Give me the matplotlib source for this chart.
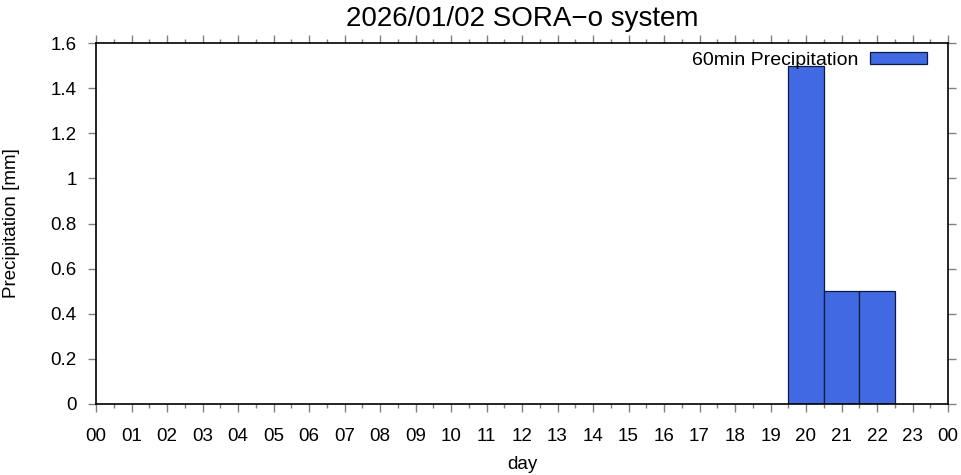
import matplotlib
matplotlib.use("Agg")
import matplotlib.pyplot as plt
import numpy as np

plt.rcParams['font.family'] = ['Liberation Sans', 'DejaVu Sans']

# hourly precipitation, hour 0..23
hours = list(range(24))
precip = [0, 0, 0, 0, 0, 0, 0, 0, 0, 0, 0, 0,
          0, 0, 0, 0, 0, 0, 0, 0, 1.5, 0.5, 0.5, 0]
xlabels = ['%02d' % h for h in range(24)] + ['00']
yticks = [0, 0.2, 0.4, 0.6, 0.8, 1, 1.2, 1.4, 1.6]
ylabels = ['0', '0.2', '0.4', '0.6', '0.8', '1', '1.2', '1.4', '1.6']

fig = plt.figure(figsize=(9.61, 4.75), dpi=100)
ax = fig.add_axes([96 / 961, 1 - 404 / 475, (948 - 96) / 961, (404 - 43) / 475])

h = np.array(hours)
p = np.array(precip)
mask = p > 0
ax.bar(h[mask], p[mask], width=1.0, color='#4169e1', edgecolor='#0a1a40',
       linewidth=0.9, label='60min Precipitation')

ax.set_xlim(0, 24)
ax.set_ylim(0, 1.6)
ax.set_xticks(range(25))
ax.set_xticklabels(xlabels, fontsize=13.5)
ax.set_xticks(np.arange(0.5, 24, 1), minor=True)
ax.set_yticks(yticks)
ax.set_yticklabels(ylabels, fontsize=13.5)

ax.tick_params(axis='both', which='major', direction='out', length=6, width=1,
               color='#808080', top=True, right=True)
ax.tick_params(axis='x', which='major', pad=11)
ax.tick_params(axis='y', which='major', pad=8)
ax.tick_params(axis='x', which='minor', direction='out', length=3, width=1,
               color='#808080', top=True)
for s in ax.spines.values():
    s.set_linewidth(1.2)
    s.set_color('black')

ax.set_xlabel('day', fontsize=13.5, labelpad=8)
ax.set_ylabel('Precipitation [mm]', fontsize=13.5, labelpad=22)
ax.set_title('2026/01/02 SORA\u2212o system', fontsize=20, pad=12)

ax.legend(loc='upper right', frameon=False, markerfirst=False, fontsize=14,
          handlelength=2.9, handleheight=0.52, handletextpad=0.62,
          borderaxespad=0, bbox_to_anchor=(0.984, 0.997))

fig.savefig('out.png', dpi=100)
